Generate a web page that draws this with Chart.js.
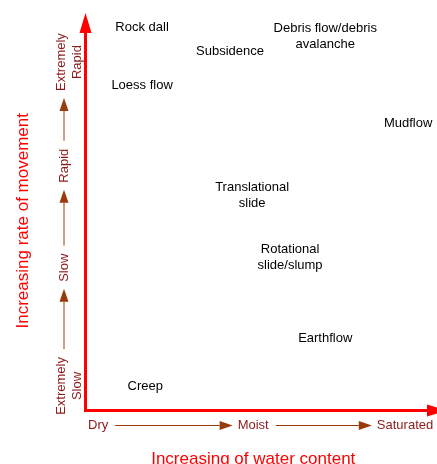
<!DOCTYPE html>
<html>
<head>
<meta charset="utf-8">
<script src="https://cdn.jsdelivr.net/npm/chart.js@4"></script>
<style>
  body { margin: 0; background: #fff; }
  #wrap { width: 437px; height: 464px; }
</style>
</head>
<body>
<div id="wrap"><canvas id="landslideChart"></canvas></div>
<script>
// landslide types placed by water content (x) and rate of movement (y), 0..10 units
const types = ['Rock dall', 'Subsidence', 'Debris flow/debris\navalanche', 'Loess flow', 'Mudflow',
    'Translational\nslide', 'Rotational\nslide/slump', 'Earthflow', 'Creep'];
const waterContent = [1.61, 4.11, 6.82, 1.61, 9.18, 4.74, 5.82, 6.82, 1.70];
const movementRate = [9.69, 9.09, 9.47, 8.23, 7.25, 5.45, 3.87, 1.83, 0.62];

const waterTicks = ['Dry', 'Moist', 'Saturated'];
const waterTickValues = [0.36, 4.77, 9.09];
const rateTicks = ['Extremely\nSlow', 'Slow', 'Rapid', 'Extremely\nRapid'];
const rateTickValues = [0.62, 3.61, 6.19, 8.81];

const xTitle = 'Increasing of water content';
const yTitle = 'Increasing rate of movement';

const FONT = '"Liberation Sans", Arial, sans-serif';
const RED = '#ff0000';
const TICK_COLOR = '#8b1a1a';
const ARROW_COLOR = '#9a3a0a';

function arrow(ctx, x1, y1, x2, y2, len, half, color, width) {
    const ang = Math.atan2(y2 - y1, x2 - x1);
    const bx = x2 - len * Math.cos(ang), by = y2 - len * Math.sin(ang);
    ctx.strokeStyle = color;
    ctx.fillStyle = color;
    ctx.lineWidth = width;
    ctx.beginPath();
    ctx.moveTo(x1, y1);
    ctx.lineTo(bx, by);
    ctx.stroke();
    ctx.beginPath();
    ctx.moveTo(x2, y2);
    ctx.lineTo(bx + half * Math.sin(ang), by - half * Math.cos(ang));
    ctx.lineTo(bx - half * Math.sin(ang), by + half * Math.cos(ang));
    ctx.closePath();
    ctx.fill();
}

const diagramPlugin = {
    id: 'diagram',
    afterDatasetsDraw(chart) {
        const { ctx, chartArea, scales: { x, y } } = chart;
        const x0 = x.getPixelForValue(0), y0 = y.getPixelForValue(0);
        ctx.save();

        // axes with arrowheads
        ctx.lineCap = 'butt';
        arrow(ctx, x0, y0 + 1.5, x0, chartArea.top - 2, 20, 6, RED, 3);
        arrow(ctx, x0 - 1.5, y0, chartArea.right + 10, y0, 20, 6, RED, 3);

        // x tick labels with arrows between them
        ctx.font = '13px ' + FONT;
        ctx.fillStyle = TICK_COLOR;
        ctx.textAlign = 'center';
        ctx.textBaseline = 'middle';
        const ty = y0 + 14.5;
        const xs = waterTickValues.map(v => x.getPixelForValue(v));
        const ws = waterTicks.map(t => ctx.measureText(t).width);
        waterTicks.forEach((t, i) => {
            ctx.fillStyle = TICK_COLOR;
            ctx.fillText(t, xs[i], ty);
        });
        for (let i = 0; i < waterTicks.length - 1; i++) {
            arrow(ctx, xs[i] + ws[i] / 2 + 7, ty + 0.5, xs[i + 1] - ws[i + 1] / 2 - 5, ty + 0.5, 13, 4.5, ARROW_COLOR, 1);
        }

        // y tick labels (rotated) with arrows between them
        const tx = x0 - 21.5;
        const ys = rateTickValues.map(v => y.getPixelForValue(v));
        const hs = rateTicks.map(t => Math.max(...t.split('\n').map(s => ctx.measureText(s).width)));
        rateTicks.forEach((t, i) => {
            const lines = t.split('\n');
            ctx.save();
            ctx.translate(lines.length > 1 ? tx - 3 : tx, ys[i]);
            ctx.rotate(-Math.PI / 2);
            ctx.fillStyle = TICK_COLOR;
            lines.forEach((s, j) => ctx.fillText(s, 0, j * 16));
            ctx.restore();
        });
        for (let i = 0; i < rateTicks.length - 1; i++) {
            arrow(ctx, tx, ys[i] - hs[i] / 2 - 8, tx, ys[i + 1] + hs[i + 1] / 2 + 7, 13, 4.5, ARROW_COLOR, 1);
        }

        // landslide type labels at their data points
        const meta = chart.getDatasetMeta(0);
        ctx.fillStyle = '#000';
        ctx.font = '13px ' + FONT;
        meta.data.forEach((pt, i) => {
            const lines = types[i].split('\n');
            const top = pt.y - (lines.length - 1) * 8;
            lines.forEach((s, j) => ctx.fillText(s, pt.x, top + j * 16));
        });

        // axis titles
        ctx.fillStyle = RED;
        ctx.font = '17px ' + FONT;
        ctx.fillText(xTitle, (x0 + chartArea.right) / 2 - 8, y0 + 48.5);
        ctx.save();
        ctx.translate(23, (chartArea.top + y0) / 2 + 8);
        ctx.rotate(-Math.PI / 2);
        ctx.fillText(yTitle, 0, 0);
        ctx.restore();

        ctx.restore();
    }
};

new Chart(document.getElementById('landslideChart'), {
    type: 'scatter',
    data: {
        datasets: [{
            label: 'Landslide types',
            data: types.map((t, i) => ({ x: waterContent[i], y: movementRate[i] })),
            pointRadius: 0,
            pointHoverRadius: 0,
        }],
    },
    options: {
        responsive: true,
        maintainAspectRatio: false,
        animation: false,
        events: [],
        layout: { padding: { left: 85.5, right: 0, top: 15, bottom: 53.5 } },
        scales: {
            x: { type: 'linear', min: 0, max: 10, display: false },
            y: { type: 'linear', min: 0, max: 10, display: false },
        },
        plugins: {
            legend: { display: false },
            tooltip: { enabled: false },
        },
    },
    plugins: [diagramPlugin],
});
</script>
</body>
</html>
